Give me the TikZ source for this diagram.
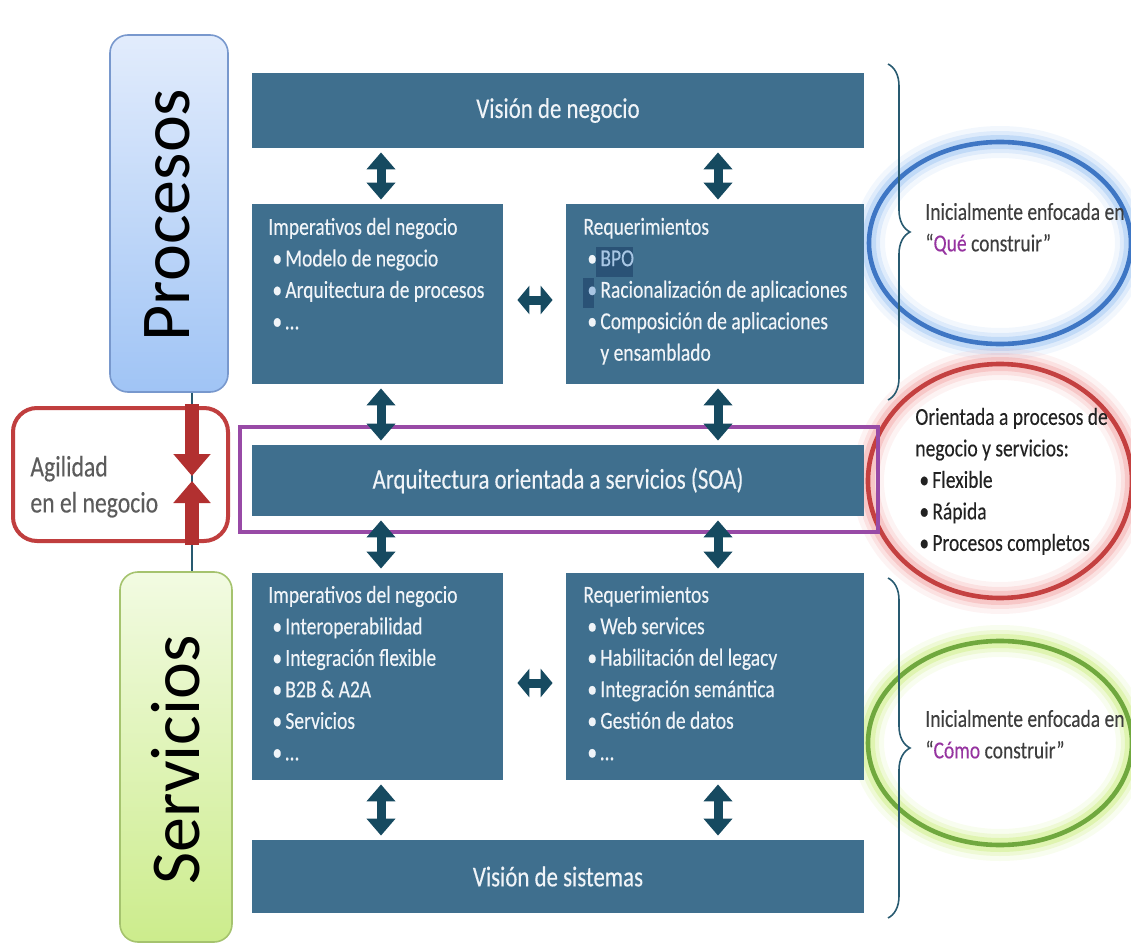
\documentclass[tikz,border=0pt]{standalone}
\usepackage{fontspec}
\setmainfont{Carlito}
\newfontfamily\narrowfont[FakeStretch=0.8,FakeBold=0.25]{Carlito}
\usetikzlibrary{arrows.meta,decorations.pathreplacing,shapes.geometric}

\definecolor{panelblue}{RGB}{63,111,142}
\definecolor{paneltxt}{RGB}{240,244,248}
\definecolor{arrowteal}{RGB}{22,74,96}
\definecolor{framepurple}{RGB}{152,74,166}
\definecolor{agilred}{RGB}{192,62,62}
\definecolor{arrowred}{RGB}{178,48,48}
\definecolor{procTop}{RGB}{226,236,252}
\definecolor{procBot}{RGB}{160,196,245}
\definecolor{procEdge}{RGB}{120,152,205}
\definecolor{servTop}{RGB}{242,251,226}
\definecolor{servBot}{RGB}{204,236,140}
\definecolor{servEdge}{RGB}{165,195,110}
\definecolor{ringblue}{RGB}{62,118,196}
\definecolor{glowblue}{RGB}{150,192,242}
\definecolor{ringred}{RGB}{196,64,64}
\definecolor{glowred}{RGB}{242,160,160}
\definecolor{ringgreen}{RGB}{112,168,62}
\definecolor{glowgreen}{RGB}{200,236,120}
\definecolor{accentpurple}{RGB}{150,52,160}
\definecolor{notegray}{RGB}{62,62,62}
\definecolor{notedark}{RGB}{34,34,34}
\definecolor{agilgray}{RGB}{92,92,92}
\definecolor{spineteal}{RGB}{40,90,112}
\definecolor{hiback}{RGB}{42,82,118}
\definecolor{hitext}{RGB}{168,198,228}

% bullet item and continuation indent
\newcommand\itm{\hspace*{2pt}\makebox[6.5pt][l]{\textbullet}}
\newcommand\itmhi{\hspace*{2pt}\makebox[6.5pt][l]{\color{hitext}\textbullet}}
\newcommand\cont{\hspace*{8.5pt}}

\tikzset{
  panel/.style={fill=panelblue, inner sep=0pt, text=paneltxt,
    font=\narrowfont\fontsize{14.3}{16}\selectfont},
  paneltext/.style={text=paneltxt, font=\narrowfont\fontsize{12.2}{15.75}\selectfont,
    align=left, anchor=north west, inner sep=0pt},
  dblarrow/.style={draw=arrowteal, line width=4.5pt,
    {Triangle[width=14pt,length=8.5pt]}-{Triangle[width=14pt,length=8.5pt]},
    shorten <=2pt, shorten >=2pt},
  sidearrow/.style={draw=arrowteal, line width=4.5pt,
    {Triangle[width=14pt,length=6pt]}-{Triangle[width=14pt,length=6pt]},
    shorten <=7pt, shorten >=6.5pt},
  redarrow/.style={draw=arrowred, line width=7pt,
    -{Triangle[width=18pt,length=11pt]}},
  spineline/.style={draw=spineteal, line width=1.2pt},
  procbox/.style={draw=procEdge, line width=0.8pt, rounded corners=9pt,
    top color=procTop, bottom color=procBot, inner sep=0pt},
  servbox/.style={draw=servEdge, line width=0.8pt, rounded corners=9pt,
    top color=servTop, bottom color=servBot, inner sep=0pt},
  sidelabel/.style={font=\fontsize{35}{40}\selectfont, text=black, inner sep=0pt},
  agilbox/.style={draw=agilred, line width=2pt, rounded corners=12pt, fill=white, inner sep=0pt},
  agiltext/.style={text=agilgray, font=\narrowfont\fontsize{14.8}{18}\selectfont,
    align=left, anchor=north west, inner sep=0pt},
  soaframe/.style={draw=framepurple, line width=2pt, inner sep=0pt},
  ring/.style n args={2}{ellipse, draw=#1, line width=2.3pt, inner sep=0pt,
    preaction={draw=#2, line width=16pt, opacity=0.12},
    preaction={draw=#2, line width=11pt, opacity=0.22},
    preaction={draw=#2, line width=7pt, opacity=0.4}},
  bracepen/.style={draw=spineteal, line width=0.8pt, decorate,
    decoration={brace, amplitude=11pt}},
  sidetext/.style={font=\narrowfont\fontsize{12.2}{15.75}\selectfont,
    align=left, anchor=north west, inner sep=0pt},
  hilite/.style={fill=hiback, inner sep=0pt},
}

\begin{document}
\begin{tikzpicture}[x=0.5pt, y=-0.5pt]
\useasboundingbox (0,0) rectangle (1131,947);

% ---- focus rings on the right
\node[ring={ringblue}{glowblue}, minimum width=131pt, minimum height=101pt] (ringQue) at (1000,243) {};
\node[ring={ringred}{glowred}, minimum width=132pt, minimum height=117pt] (ringSoa) at (1000,481) {};
\node[ring={ringgreen}{glowgreen}, minimum width=132pt, minimum height=102pt] (ringComo) at (1000,743) {};

% ---- left column: processes / services
\node[procbox, minimum width=59pt, minimum height=178.5pt] (proc) at (169,213.5) {};
\node[sidelabel, rotate=90] (procLabel) at (167.5,215) {Procesos};
\node[servbox, minimum width=56pt, minimum height=185pt] (serv) at (176,757) {};
\node[sidelabel, rotate=90] (servLabel) at (176,760) {Servicios};

\coordinate (spine) at (192,0);
\node[agilbox, minimum width=107.5pt, minimum height=66.5pt] (agil) at (120.5,474.5) {};
\draw[spineline] (proc.south -| spine) -- (serv.north -| spine);
\coordinate (tipDown) at (192,476);
\coordinate (tipUp) at (192,481);
\draw[redarrow] ([yshift=1pt]agil.north -| spine) -- (tipDown);
\draw[redarrow] ([yshift=-1pt]agil.south -| spine) -- (tipUp);
\node[agiltext] (agilText) at (30,455.5) {Agilidad\\en el negocio};

% ---- central panels
\node[panel, minimum width=306pt, minimum height=37.5pt] (visN) at (558,110.5) {Visión de negocio};
\node[panel, minimum width=125.5pt, minimum height=90pt] (impT) at (377.5,294) {};
\node[panel, minimum width=149pt, minimum height=90pt] (reqT) at (715,294) {};
\node[soaframe, minimum width=319pt, minimum height=52.5pt] (soaFrame) at (559,479.5) {};
\node[panel, minimum width=306pt, minimum height=35.5pt] (soa) at (558,480.5) {Arquitectura orientada a servicios (SOA)};
\node[panel, minimum width=125.5pt, minimum height=103.5pt] (impB) at (377.5,676.5) {};
\node[panel, minimum width=149pt, minimum height=103.5pt] (reqB) at (715,676.5) {};
\node[panel, minimum width=306pt, minimum height=36.5pt] (visS) at (558,876.5) {Visión de sistemas};

% selection highlight behind "BPO" and the next bullet
\node[hilite, minimum width=18.5pt, minimum height=15pt] (hlBpo) at (614.5,262) {};
\node[hilite, minimum width=5.5pt, minimum height=15pt] (hlBullet) at (588.5,293) {};

\node[paneltext] (impTText) at (268,217.5) {Imperativos del negocio\\\itm Modelo de negocio\\\itm Arquitectura de procesos\\\itm …};
\node[paneltext] (reqTText) at (583,217.5) {Requerimientos\\\itm {\color{hitext}BPO}\\\itmhi Racionalización de aplicaciones\\\itm Composición de aplicaciones\\\cont y ensamblado};
\node[paneltext] (impBText) at (268,585.5) {Imperativos del negocio\\\itm Interoperabilidad\\\itm Integración flexible\\\itm B2B \& A2A\\\itm Servicios\\\itm …};
\node[paneltext] (reqBText) at (583,585.5) {Requerimientos\\\itm Web services\\\itm Habilitación del legacy\\\itm Integración semántica\\\itm Gestión de datos\\\itm …};

% ---- connectors between panels
\coordinate (colL) at (381,0);
\coordinate (colR) at (718,0);
\draw[dblarrow] (visN.south -| colL) -- (impT.north -| colL);
\draw[dblarrow] (visN.south -| colR) -- (reqT.north -| colR);
\draw[dblarrow] (impT.south -| colL) -- (soa.north -| colL);
\draw[dblarrow] (reqT.south -| colR) -- (soa.north -| colR);
\draw[dblarrow] (soa.south -| colL) -- (impB.north -| colL);
\draw[dblarrow] (soa.south -| colR) -- (reqB.north -| colR);
\draw[dblarrow] (impB.south -| colL) -- (visS.north -| colL);
\draw[dblarrow] (reqB.south -| colR) -- (visS.north -| colR);
\draw[sidearrow] ([yshift=-3pt]impT.east) -- ([yshift=-3pt]reqT.west);
\draw[sidearrow] ([yshift=-3.25pt]impB.east) -- ([yshift=-3.25pt]reqB.west);

% ---- braces
\coordinate (braceTopA) at (888,64);
\coordinate (braceTopB) at (888,400);
\coordinate (braceBotA) at (888,578);
\coordinate (braceBotB) at (888,918);
\draw[bracepen] (braceTopA) -- (braceTopB);
\draw[bracepen] (braceBotA) -- (braceBotB);

% ---- notes
\node[sidetext, text=notegray] (noteQue) at (925,202.5) {Inicialmente enfocada en\\“{\color{accentpurple}Qué} construir”};
\node[sidetext, text=notedark] (noteSoa) at (915,407.5) {Orientada a procesos de\\negocio y servicios:\\\itm Flexible\\\itm Rápida\\\itm Procesos completos};
\node[sidetext, text=notegray] (noteComo) at (925,709.5) {Inicialmente enfocada en\\“{\color{accentpurple}Cómo} construir”};
\end{tikzpicture}
\end{document}
